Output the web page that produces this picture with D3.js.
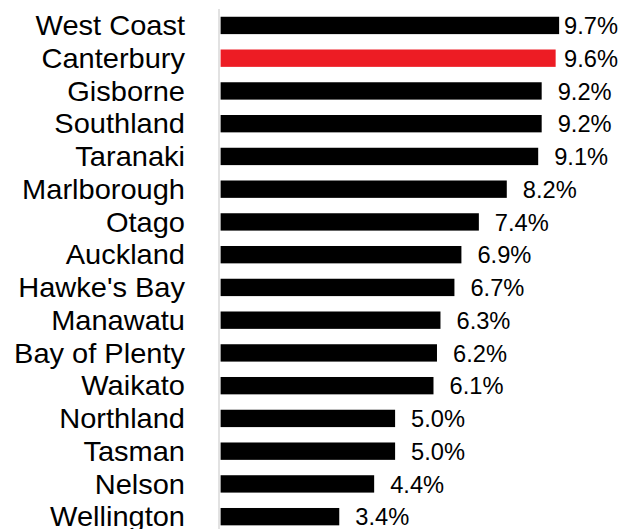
<!DOCTYPE html>
<html>
<head>
<meta charset="utf-8">
<script src="https://cdn.jsdelivr.net/npm/d3@7"></script>
<style>
  html, body { margin: 0; padding: 0; background: #fff; }
  text { font-family: "Liberation Sans", Arial, sans-serif; fill: #000; }
</style>
</head>
<body>
<div id="chart"></div>
<script>
var REGIONS = ["West Coast", "Canterbury", "Gisborne", "Southland", "Taranaki",
  "Marlborough", "Otago", "Auckland", "Hawke's Bay", "Manawatu", "Bay of Plenty",
  "Waikato", "Northland", "Tasman", "Nelson", "Wellington"];
var RATES = [9.7, 9.6, 9.2, 9.2, 9.1, 8.2, 7.4, 6.9, 6.7, 6.3, 6.2, 6.1, 5.0, 5.0, 4.4, 3.4];
var HIGHLIGHT = "Canterbury";

var W = 633, H = 529;
var CAT_STRETCH = 1.075, VAL_STRETCH = 1.03;

var svg = d3.select("#chart").append("svg")
  .attr("width", W)
  .attr("height", H);

var x = d3.scaleLinear().domain([0, 10]).range([220.6, 569.6]);
var y = d3.scaleBand().domain(REGIONS).range([8.9, 533.2]).paddingInner(0.47).paddingOuter(0.24);

var rows = REGIONS.map(function(r, i) { return { name: r, value: RATES[i] }; });
var mid = function(d) { return y(d.name) + y.bandwidth() / 2; };

// axis line
svg.append("line")
  .attr("x1", 219).attr("x2", 219)
  .attr("y1", 9).attr("y2", H)
  .attr("stroke", "#d9d9d9")
  .attr("stroke-width", 1.5);

// category labels (the source chart is a bit stretched sideways)
svg.selectAll("text.cat")
  .data(rows)
  .enter().append("text")
  .attr("class", "cat")
  .attr("transform", function(d) { return "translate(185," + mid(d) + ") scale(" + CAT_STRETCH + ",1)"; })
  .attr("dy", "0.36em")
  .attr("text-anchor", "end")
  .style("font-size", "27px")
  .text(function(d) { return d.name; });

// bars
svg.selectAll("rect.bar")
  .data(rows)
  .enter().append("rect")
  .attr("class", "bar")
  .attr("x", x(0))
  .attr("y", function(d) { return y(d.name); })
  .attr("width", function(d) { return x(d.value) - x(0); })
  .attr("height", y.bandwidth())
  .attr("fill", function(d) { return d.name == HIGHLIGHT ? "#ed1c24" : "#000"; });

// value labels, pushed back inside the right edge when needed
var RIGHT_EDGE = 618;
svg.selectAll("text.val")
  .data(rows)
  .enter().append("text")
  .attr("class", "val")
  .attr("dy", "0.38em")
  .style("font-size", "23px")
  .text(function(d) { return d.value.toFixed(1) + "%"; })
  .attr("transform", function(d) {
    var w = this.getComputedTextLength() * VAL_STRETCH;
    var lx = Math.min(x(d.value) + 16, RIGHT_EDGE - w);
    return "translate(" + lx + "," + mid(d) + ") scale(" + VAL_STRETCH + ",1)";
  });
</script>
</body>
</html>
